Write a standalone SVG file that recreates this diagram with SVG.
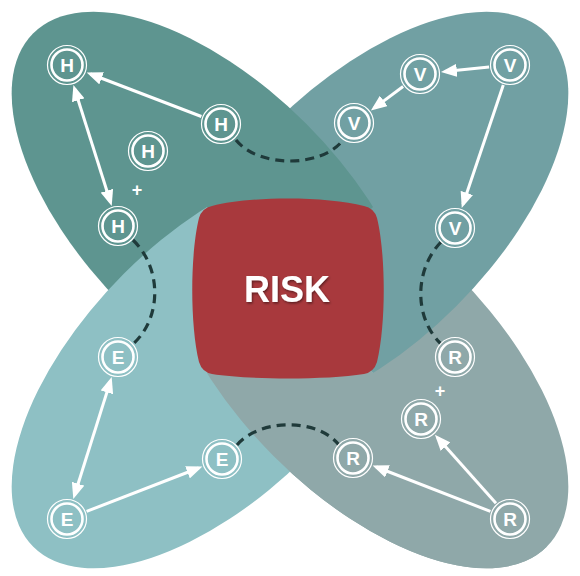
<svg xmlns="http://www.w3.org/2000/svg" width="580" height="576" viewBox="0 0 580 576">
<style>
.ring-o{fill:none;stroke:#ffffff;stroke-width:1.2}
.ring-i{fill:none;stroke:#ffffff;stroke-width:2.6}
.lbl{font-family:"Liberation Sans","Arial",sans-serif;font-weight:bold;font-size:19px;fill:#ffffff;text-anchor:middle}
.plus{font-family:"Liberation Sans","Arial",sans-serif;font-weight:bold;font-size:18px;fill:#ffffff;text-anchor:middle}
.arrow{fill:none;stroke:#ffffff;stroke-width:3}
.dash{fill:none;stroke:#1f3a3a;stroke-width:3.2;stroke-dasharray:9 6}
</style>
<defs>
<marker id="ah" viewBox="0 0 16 13" refX="12" refY="6.5" markerWidth="16" markerHeight="13" markerUnits="userSpaceOnUse" orient="auto-start-reverse">
<path d="M0,0 L16,6.5 L0,13 z" fill="#ffffff"/>
</marker>
<ellipse id="pH" cx="215" cy="215" rx="257" ry="129" transform="rotate(45 215 215)" fill="#5e9590"/>
<ellipse id="pV" cx="365" cy="215" rx="257" ry="129" transform="rotate(-45 365 215)" fill="#71a0a3"/>
<ellipse id="pR" cx="365" cy="365" rx="257" ry="129" transform="rotate(45 365 365)" fill="#8fa8a9"/>
<ellipse id="pE" cx="215" cy="365" rx="257" ry="129" transform="rotate(-45 215 365)" fill="#8ec0c4"/>
<clipPath id="hpH"><polygon points="-800,1380 1380,-800 -800,-800"/></clipPath>
<clipPath id="hpV"><polygon points="-800,-800 1380,-800 1380,1380"/></clipPath>
<clipPath id="hpR"><polygon points="1380,-800 1380,1380 -800,1380"/></clipPath>
<clipPath id="hpE"><polygon points="-800,-800 1380,1380 -800,1380"/></clipPath>
<clipPath id="qB"><polygon points="290,290 1380,1380 -800,1380"/></clipPath>
<filter id="sh" x="-20%" y="-20%" width="140%" height="140%">
<feDropShadow dx="1" dy="1.5" stdDeviation="1" flood-color="#000000" flood-opacity="0.45"/>
</filter>
</defs>
<rect width="580" height="576" fill="#ffffff"/>
<g id="petals">
<g id="petal-R" clip-path="url(#hpR)"><use href="#pR"/></g>
<g id="petal-V" clip-path="url(#hpV)"><use href="#pV"/></g>
<g id="petal-H" clip-path="url(#hpH)"><use href="#pH"/></g>
<g id="petal-E" clip-path="url(#hpE)"><use href="#pE"/></g>
<g id="petal-R-over-E" clip-path="url(#qB)"><use href="#pR"/></g>
</g>
<g id="risk">
<path d="M212,206 C250,196 326,196 364,206 Q374,208 377,218 C386,255 386,325 377,362 Q374,372 364,374 C326,380 250,380 212,374 Q202,372 199,362 C190,325 190,255 199,218 Q202,208 212,206 Z" fill="#a8393d"/>
<text x="287" y="302" font-family="Liberation Sans, Arial, sans-serif" font-weight="bold" font-size="36" fill="#ffffff" text-anchor="middle" filter="url(#sh)">RISK</text>
</g>
<g id="connectors">
<path class="dash" d="M236,140 C258,168 322,168 343,140"/>
<path class="dash" d="M133,240 C162,268 162,318 133,344"/>
<path class="dash" d="M237,445 C260,418 318,418 339,445"/>
<path class="dash" d="M441,242 C414,270 414,318 441,344"/>
<line class="arrow" x1="201.4" y1="116.5" x2="90.4" y2="74" marker-end="url(#ah)"/>
<line class="arrow" x1="74.6" y1="88.8" x2="110.5" y2="202.2" marker-start="url(#ah)" marker-end="url(#ah)"/>
<line class="arrow" x1="489.1" y1="67.1" x2="444.9" y2="71.5" marker-end="url(#ah)"/>
<line class="arrow" x1="403.1" y1="86.5" x2="374.1" y2="108.1" marker-end="url(#ah)"/>
<line class="arrow" x1="503.3" y1="84.9" x2="463" y2="204.3" marker-end="url(#ah)"/>
<line class="arrow" x1="110.5" y1="380.9" x2="74.5" y2="495.2" marker-start="url(#ah)" marker-end="url(#ah)"/>
<line class="arrow" x1="86.6" y1="511.4" x2="198.7" y2="468" marker-end="url(#ah)"/>
<line class="arrow" x1="496" y1="503.3" x2="437.6" y2="437.7" marker-end="url(#ah)"/>
<line class="arrow" x1="490.4" y1="511.4" x2="376.3" y2="467" marker-end="url(#ah)"/>
</g>
<g id="H1"><circle class="ring-o" cx="67" cy="65" r="19.5"/><circle class="ring-i" cx="67" cy="65" r="15.5"/><text class="lbl" x="67" y="71.8">H</text></g>
<g id="H2"><circle class="ring-o" cx="221" cy="124" r="19.5"/><circle class="ring-i" cx="221" cy="124" r="15.5"/><text class="lbl" x="221" y="130.8">H</text></g>
<g id="H3"><circle class="ring-o" cx="148" cy="151" r="19.5"/><circle class="ring-i" cx="148" cy="151" r="15.5"/><text class="lbl" x="148" y="157.8">H</text></g>
<g id="H4"><circle class="ring-o" cx="118" cy="226" r="19.5"/><circle class="ring-i" cx="118" cy="226" r="15.5"/><text class="lbl" x="118" y="232.8">H</text></g>
<g id="H-plus"><text class="plus" x="137" y="196">+</text></g>
<g id="V1"><circle class="ring-o" cx="510" cy="65" r="19.5"/><circle class="ring-i" cx="510" cy="65" r="15.5"/><text class="lbl" x="510" y="71.8">V</text></g>
<g id="V2"><circle class="ring-o" cx="420" cy="74" r="19.5"/><circle class="ring-i" cx="420" cy="74" r="15.5"/><text class="lbl" x="420" y="80.8">V</text></g>
<g id="V3"><circle class="ring-o" cx="354" cy="123" r="19.5"/><circle class="ring-i" cx="354" cy="123" r="15.5"/><text class="lbl" x="354" y="129.8">V</text></g>
<g id="V4"><circle class="ring-o" cx="455" cy="228" r="19.5"/><circle class="ring-i" cx="455" cy="228" r="15.5"/><text class="lbl" x="455" y="234.8">V</text></g>
<g id="E1"><circle class="ring-o" cx="118" cy="357" r="19.5"/><circle class="ring-i" cx="118" cy="357" r="15.5"/><text class="lbl" x="118" y="363.8">E</text></g>
<g id="E2"><circle class="ring-o" cx="222" cy="459" r="19.5"/><circle class="ring-i" cx="222" cy="459" r="15.5"/><text class="lbl" x="222" y="465.8">E</text></g>
<g id="E3"><circle class="ring-o" cx="67" cy="519" r="19.5"/><circle class="ring-i" cx="67" cy="519" r="15.5"/><text class="lbl" x="67" y="525.8">E</text></g>
<g id="R1"><circle class="ring-o" cx="455" cy="357" r="19.5"/><circle class="ring-i" cx="455" cy="357" r="15.5"/><text class="lbl" x="455" y="363.8">R</text></g>
<g id="R2"><circle class="ring-o" cx="421" cy="419" r="19.5"/><circle class="ring-i" cx="421" cy="419" r="15.5"/><text class="lbl" x="421" y="425.8">R</text></g>
<g id="R3"><circle class="ring-o" cx="353" cy="458" r="19.5"/><circle class="ring-i" cx="353" cy="458" r="15.5"/><text class="lbl" x="353" y="464.8">R</text></g>
<g id="R4"><circle class="ring-o" cx="510" cy="519" r="19.5"/><circle class="ring-i" cx="510" cy="519" r="15.5"/><text class="lbl" x="510" y="525.8">R</text></g>
<g id="R-plus"><text class="plus" x="440" y="397">+</text></g>
</svg>
